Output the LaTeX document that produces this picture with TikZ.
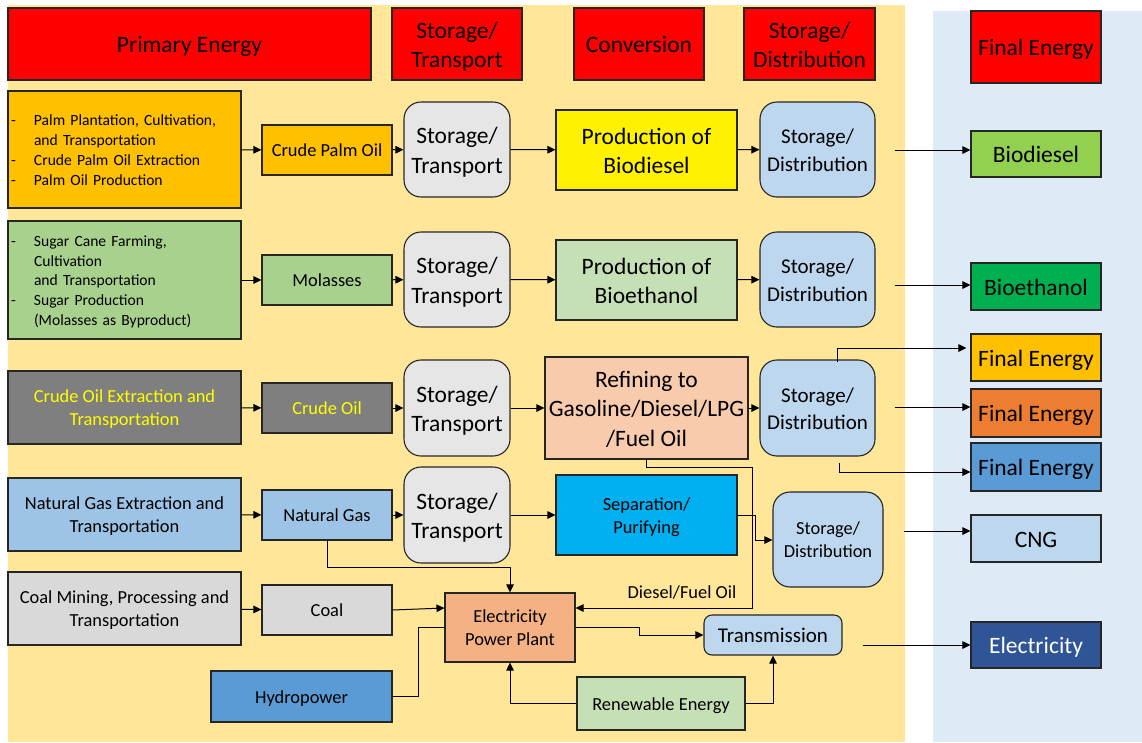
\documentclass[tikz,border=0pt]{standalone}
\usepackage{fontspec}
\setmainfont{Carlito}
\usetikzlibrary{arrows.meta}

\definecolor{bgyellow}{HTML}{FFE699}
\definecolor{bgblue}{HTML}{DEEBF7}
\definecolor{hdred}{HTML}{FF0000}
\definecolor{palmor}{HTML}{FFC000}
\definecolor{stgrey}{HTML}{E7E6E6}
\definecolor{sdblue}{HTML}{BDD7EE}
\definecolor{sugargr}{HTML}{A9D18E}
\definecolor{ltgreen}{HTML}{C5E0B4}
\definecolor{oilgrey}{HTML}{7F7F7F}
\definecolor{refpeach}{HTML}{F8CBAD}
\definecolor{gasblue}{HTML}{9DC3E6}
\definecolor{sepcyan}{HTML}{00B0F0}
\definecolor{coalgrey}{HTML}{D9D9D9}
\definecolor{hydblue}{HTML}{5B9BD5}
\definecolor{ppor}{HTML}{F4B183}
\definecolor{elnavy}{HTML}{2F5597}
\definecolor{bdgreen}{HTML}{92D050}
\definecolor{begreen}{HTML}{00B050}
\definecolor{feorange}{HTML}{ED7D31}
\definecolor{oiltext}{HTML}{FFFF00}
\definecolor{edge}{HTML}{262626}

% strut giving every text block the same line box (1em above, 0.25em below the baseline)
\newcommand{\linestrut}{\rule[-0.25em]{0pt}{1.25em}}
% box text framed by struts on its first and last line
\newcommand{\tx}[1]{\linestrut#1\linestrut}

\tikzset{
  box/.style={draw=edge, line width=1.1pt, inner sep=0pt, align=center, text=black},
  rbox/.style={box, rounded corners=17pt},
  fL/.style={font=\fontsize{23.5}{29.5}\selectfont},
  fM/.style={font=\fontsize{21}{25}\selectfont},
  fS/.style={font=\fontsize{18.4}{23}\selectfont},
  fXS/.style={font=\fontsize{15.6}{19.8}\selectfont},
  arr/.style={-{Triangle[length=8pt,width=7.5pt]}, line width=1pt, draw=black},
  ln/.style={line width=1pt, draw=black},
  listbox/.style={box, inner xsep=3pt, text width=227pt, align=left, fXS},
}

\newcommand{\dashitem}{\makebox[23pt][l]{-}}
\newcommand{\indentitem}{\hspace*{23pt}}

\begin{document}
\begin{tikzpicture}[x=1pt, y=-1pt]
  \useasboundingbox (0,0) rectangle (1142,742);

  % stage backgrounds
  \fill[bgyellow] (8,5) rectangle (905,742);
  \fill[bgblue] (933,11) rectangle (1142,742);

  % column headers
  \node[box, fL, fill=hdred, minimum width=363pt, minimum height=72pt] (hPE) at (189.5,44) {\tx{Primary Energy}};
  \node[box, fL, fill=hdred, minimum width=130pt, minimum height=72pt] (hST) at (457,44) {\tx{Storage/\\Transport}};
  \node[box, fL, fill=hdred, minimum width=130pt, minimum height=72pt] (hCV) at (639,44) {\tx{Conversion}};
  \node[box, fL, fill=hdred, minimum width=131pt, minimum height=72pt] (hSD) at (809.5,44) {\tx{Storage/\\Distribution}};
  \node[box, fL, fill=hdred, minimum width=130pt, minimum height=72pt] (hFE) at (1036,47) {\tx{Final Energy}};

  % palm oil chain
  \node[listbox, fill=palmor, minimum height=117pt] (palm) at (124.5,149.5)
    {\tx{\dashitem Palm Plantation, Cultivation,\\\indentitem and Transportation\\\dashitem Crude Palm Oil Extraction\\\dashitem Palm Oil Production}};
  \node[box, fS, fill=palmor, minimum width=130pt, minimum height=50pt] (cpo) at (327,150) {\tx{Crude Palm Oil}};
  \node[rbox, fL, fill=stgrey, minimum width=106pt, minimum height=95pt] (st1) at (457,149.5) {\tx{Storage/\\Transport}};
  \node[box, fL, fill=yellow, minimum width=181pt, minimum height=80pt] (pb) at (646.5,150) {\tx{Production of\\Biodiesel}};
  \node[rbox, fM, fill=sdblue, minimum width=115pt, minimum height=95pt] (sd1) at (817.5,149.5) {\tx{Storage/\\Distribution}};
  \node[box, fL, fill=bdgreen, minimum width=130pt, minimum height=46pt] (bd) at (1036,154) {\tx{Biodiesel}};

  % sugar cane chain
  \node[listbox, fill=sugargr, minimum height=118pt] (sugar) at (124.5,280)
    {\tx{\dashitem Sugar Cane Farming,\\\indentitem Cultivation\\\indentitem and Transportation\\\dashitem Sugar Production\\\indentitem (Molasses as Byproduct)}};
  \node[box, fS, fill=sugargr, minimum width=130pt, minimum height=50pt] (mol) at (327,280) {\tx{Molasses}};
  \node[rbox, fL, fill=stgrey, minimum width=106pt, minimum height=95pt] (st2) at (457,279.5) {\tx{Storage/\\Transport}};
  \node[box, fL, fill=ltgreen, minimum width=181pt, minimum height=80pt] (pe) at (646.5,280) {\tx{Production of\\Bioethanol}};
  \node[rbox, fM, fill=sdblue, minimum width=115pt, minimum height=95pt] (sd2) at (817.5,279.5) {\tx{Storage/\\Distribution}};
  \node[box, fL, fill=begreen, minimum width=130pt, minimum height=47pt] (be) at (1036,286.5) {\tx{Bioethanol}};

  % crude oil chain
  \node[box, fS, fill=oilgrey, text=oiltext, minimum width=233pt, minimum height=73pt] (coe) at (124.5,407.5) {\tx{Crude Oil Extraction and\\Transportation}};
  \node[box, fS, fill=oilgrey, text=oiltext, minimum width=130pt, minimum height=50pt] (co) at (327,408) {\tx{Crude Oil}};
  \node[rbox, fL, fill=stgrey, minimum width=106pt, minimum height=96pt] (st3) at (457,408) {\tx{Storage/\\Transport}};
  \node[box, fL, fill=refpeach, minimum width=203pt, minimum height=102pt] (ref) at (646.5,408) {\tx{Refining to\\Gasoline/Diesel/LPG\\/Fuel Oil}};
  \node[rbox, fM, fill=sdblue, minimum width=115pt, minimum height=96pt] (sd3) at (817.5,408) {\tx{Storage/\\Distribution}};
  \node[box, fL, fill=palmor, minimum width=130pt, minimum height=47pt] (fe1) at (1036,357.5) {\tx{Final Energy}};
  \node[box, fL, fill=feorange, minimum width=130pt, minimum height=48pt] (fe2) at (1036,413) {\tx{Final Energy}};
  \node[box, fL, fill=hydblue, minimum width=130pt, minimum height=48pt] (fe3) at (1036,467) {\tx{Final Energy}};

  % natural gas chain
  \node[box, fS, fill=gasblue, minimum width=233pt, minimum height=73pt] (nge) at (124.5,514.5) {\tx{Natural Gas Extraction and\\Transportation}};
  \node[box, fS, fill=gasblue, minimum width=130pt, minimum height=50pt] (ng) at (327,515) {\tx{Natural Gas}};
  \node[rbox, fL, fill=stgrey, minimum width=106pt, minimum height=96pt] (st4) at (457,515) {\tx{Storage/\\Transport}};
  \node[box, fS, fill=sepcyan, minimum width=181pt, minimum height=80pt] (sep) at (646.5,515) {\tx{Separation/\\Purifying}};
  \node[rbox, fS, fill=sdblue, minimum width=110pt, minimum height=95pt] (sd4) at (828,539.5) {\tx{Storage/\\Distribution}};
  \node[box, fL, fill=sdblue, minimum width=130pt, minimum height=47pt] (cng) at (1036,538.5) {\tx{CNG}};

  % electricity chain
  \node[box, fS, fill=coalgrey, minimum width=233pt, minimum height=73pt] (cm) at (124.5,608.5) {\tx{Coal Mining, Processing and\\Transportation}};
  \node[box, fS, fill=coalgrey, minimum width=130pt, minimum height=50pt] (coal) at (327,610) {\tx{Coal}};
  \node[box, fS, fill=hydblue, minimum width=181pt, minimum height=51pt] (hyd) at (301.5,696.5) {\tx{Hydropower}};
  \node[box, fS, fill=ppor, minimum width=130pt, minimum height=69pt] (pp) at (510,627.5) {\tx{Electricity\\Power Plant}};
  \node[box, rounded corners=8pt, fM, fill=sdblue, minimum width=138pt, minimum height=40pt] (tr) at (773,635) {\tx{Transmission}};
  \node[box, fS, fill=ltgreen, minimum width=168pt, minimum height=53pt] (ren) at (661,703.5) {\tx{Renewable Energy}};
  \node[box, fL, fill=elnavy, text=white, minimum width=130pt, minimum height=46pt] (el) at (1036,645) {\tx{Electricity}};

  \node[fS, inner sep=0pt] (dfo) at (682,592) {Diesel/Fuel Oil};

  % free ends of the outgoing distribution arrows
  \coordinate (o1) at (895,150);
  \coordinate (o2) at (895,285);
  \coordinate (o3a) at (837,362);
  \coordinate (o3b) at (895,407);
  \coordinate (o3c) at (839,463);
  \coordinate (o4) at (904,531);
  \coordinate (o5) at (863,645);

  % palm oil flow
  \draw[arr] (palm) -- (cpo);
  \draw[arr] (cpo) -- (st1);
  \draw[arr] (st1) -- (pb);
  \draw[arr] (pb) -- (sd1);
  \draw[arr] (o1) -- (o1 -| bd.west);

  % sugar cane flow
  \draw[arr] (sugar) -- (mol);
  \draw[arr] (mol) -- (st2);
  \draw[arr] (st2) -- (pe);
  \draw[arr] (pe) -- (sd2);
  \draw[arr] (o2) -- (o2 -| be.west);

  % crude oil flow
  \draw[arr] (coe) -- (co);
  \draw[arr] (co) -- (st3);
  \draw[arr] (st3) -- (ref);
  \draw[arr] (ref) -- (sd3);
  \draw[arr] (o3a) |- ([xshift=-4pt]fe1.west |- 0,348);
  \draw[arr] (o3b) -- (o3b -| fe2.west);
  \draw[arr] (o3c) |- (fe3.west |- 0,472);
  \draw[arr] (ref.south) -- ++(0,8) -| (752,608) -- (pp.east |- 0,608);

  % natural gas flow
  \draw[arr] (nge) -- (ng);
  \draw[arr] (ng) -- (st4);
  \draw[arr] (st4) -- (sep);
  \draw[arr] (sep.east) -| (755,540) -- (sd4.west |- 0,540);
  \draw[arr] (o4) -- (o4 -| cng.west);
  \draw[arr] (ng.south) |- (510,567) -- (pp.north);

  % electricity flow
  \draw[arr] (cm) -- (coal);
  \draw[arr] (coal.east) -- (pp.west |- 0,608);
  \draw[ln] (hyd.east) -| (418,627) -- (pp.west |- 0,627);
  \draw[arr] (pp.east |- 0,627) -| (639,635) -- (tr.west);
  \draw[arr] (ren.west) -| (pp.south);
  \draw[arr] (ren.east) -| (tr.south);
  \draw[arr] (o5) -- (o5 -| el.west);
\end{tikzpicture}
\end{document}
